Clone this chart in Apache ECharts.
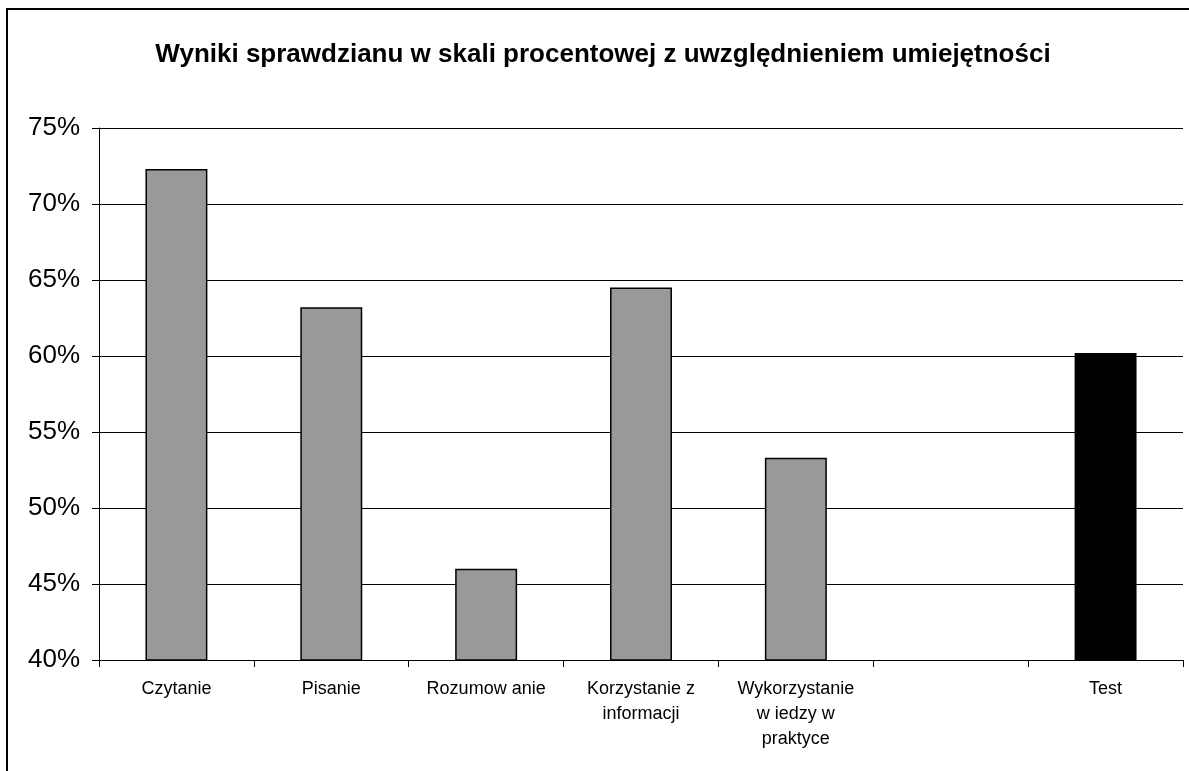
<!DOCTYPE html>
<html>
<head>
<meta charset="utf-8">
<script src="https://cdn.jsdelivr.net/npm/echarts@6/dist/echarts.min.js"></script>
<style>
  html, body { margin: 0; padding: 0; background: #fff; }
  #chart { width: 1189px; height: 771px; }
</style>
</head>
<body>
<div id="chart"></div>
<script>
const categories = [
  'Czytanie',
  'Pisanie',
  'Rozumow anie',
  'Korzystanie z\ninformacji',
  'Wykorzystanie\nw iedzy w\npraktyce',
  '',
  'Test'
]
const scores = [72.3, 63.2, 46.0, 64.5, 53.3, null, 60.2]
const barColors = ['#999999', '#999999', '#999999', '#999999', '#999999', '#999999', '#000000']

const chart = echarts.init(document.getElementById('chart'))

chart.setOption({
  animation: false,
  title: {
    text: 'Wyniki sprawdzianu w skali procentowej z uwzględnieniem umiejętności',
    left: 598,
    top: 37,
    textAlign: 'center',
    textStyle: {
      fontFamily: 'Liberation Sans, Arial, sans-serif',
      fontSize: 26,
      fontWeight: 'bold',
      color: '#000'
    }
  },
  // ramka wykresu (widoczna tylko z lewej i u góry)
  graphic: [
    {
      type: 'rect',
      shape: { x: 7, y: 9, width: 1400, height: 1000 },
      style: { fill: 'none', stroke: '#000', lineWidth: 2 },
      silent: true
    }
  ],
  grid: {
    left: 99,
    right: 6,
    top: 128,
    bottom: 111
  },
  xAxis: {
    type: 'category',
    data: categories,
    boundaryGap: true,
    axisLine: { lineStyle: { color: '#000', width: 1 } },
    axisTick: { show: true, length: 7, lineStyle: { color: '#000' } },
    axisLabel: {
      interval: 0,
      margin: 17,
      fontFamily: 'Liberation Sans, Arial, sans-serif',
      fontSize: 18,
      lineHeight: 25,
      color: '#000'
    }
  },
  yAxis: {
    type: 'value',
    min: 40,
    max: 75,
    interval: 5,
    axisLine: { show: true, lineStyle: { color: '#000', width: 1 } },
    axisTick: { show: true, length: 7, lineStyle: { color: '#000' } },
    axisLabel: {
      margin: 19,
      formatter: '{value}%',
      fontFamily: 'Liberation Sans, Arial, sans-serif',
      fontSize: 26,
      color: '#000'
    },
    splitLine: { show: true, lineStyle: { color: '#000', width: 1 } }
  },
  series: [
    {
      type: 'bar',
      barWidth: '40%',
      data: scores.map((v, i) => ({
        value: v,
        itemStyle: { color: barColors[i] }
      })),
      itemStyle: {
        borderColor: '#000',
        borderWidth: 1.5
      }
    }
  ]
})
</script>
</body>
</html>
